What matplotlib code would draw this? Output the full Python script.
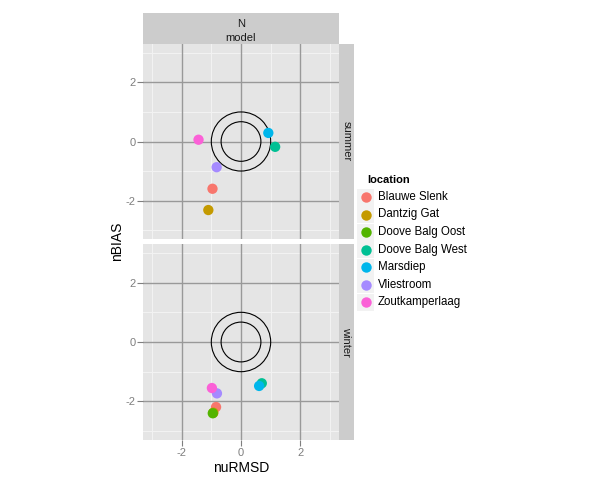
import numpy as np
import matplotlib
matplotlib.use("Agg")
import matplotlib.pyplot as plt
from matplotlib.patches import Circle, Rectangle

plt.rcParams["font.family"] = ["Liberation Sans", "DejaVu Sans"]

# locations and ggplot default hue colours
locations = ["Blauwe Slenk", "Dantzig Gat", "Doove Balg Oost", "Doove Balg West",
             "Marsdiep", "Vliestroom", "Zoutkamperlaag"]
colors = ["#F8766D", "#C49A00", "#53B400", "#00C094", "#00B6EB", "#A58AFF", "#FB61D7"]

# summer (Doove Balg Oost has no value)
summer_x = [-0.96, -1.10, np.nan, 1.15, 0.92, -0.82, -1.43]
summer_y = [-1.60, -2.32, np.nan, -0.18, 0.29, -0.87, 0.06]
# winter
winter_x = [-0.84, -0.93, -0.95, 0.70, 0.61, -0.81, -0.98]
winter_y = [-2.19, -2.38, -2.40, -1.39, -1.48, -1.73, -1.55]

seasons = ["summer", "winter"]
xs = [summer_x, winter_x]
ys = [summer_y, winter_y]
radii = [1.0, 0.67]
lim = 3.3

W, H = 600, 480
fig = plt.figure(figsize=(6, 4.8), dpi=100)

def fx(px):
    return px / W

def fy(py):
    return 1 - py / H

panel_l, panel_r = 143, 339
panels = [(44, 239), (244, 440)]
grey_txt = "#7F7F7F"

for k, (top, bot) in enumerate(panels):
    ax = fig.add_axes([fx(panel_l), fy(bot), fx(panel_r - panel_l), (bot - top) / H])
    ax.set_facecolor("#E5E5E5")
    ax.set_xlim(-lim, lim)
    ax.set_ylim(-lim, lim)
    for v in [-3, -1, 1, 3]:
        ax.axvline(v, color="#F2F2F2", lw=0.8, zorder=0)
        ax.axhline(v, color="#F2F2F2", lw=0.8, zorder=0)
    for v in [-2, 0, 2]:
        ax.axvline(v, color="#999999", lw=1.0, zorder=0.5)
        ax.axhline(v, color="#999999", lw=1.0, zorder=0.5)
    for r in radii:
        ax.add_patch(Circle((0, 0), r, fill=False, ec="black", lw=0.8, zorder=2))
    for i, loc in enumerate(locations):
        ax.scatter(xs[k][i], ys[k][i], s=55, color=colors[i], edgecolors="none", zorder=3)
    for s in ax.spines.values():
        s.set_visible(False)
    ax.set_yticks([-2, 0, 2])
    ax.set_yticklabels(["-2", "0", "2"], color=grey_txt, fontsize=8)
    ax.tick_params(axis="y", length=4, color=grey_txt, pad=1.5)
    if k == 1:
        ax.set_xticks([-2, 0, 2])
        ax.set_xticklabels(["-2", "0", "2"], color=grey_txt, fontsize=8)
        ax.tick_params(axis="x", length=4, color=grey_txt, pad=2)
        ax.set_xlabel("nuRMSD", fontsize=10, labelpad=2)
    else:
        ax.set_xticks([])

    # right strip
    sax = fig.add_axes([fx(panel_r), fy(bot), fx(354 - panel_r), (bot - top) / H])
    sax.set_facecolor("#CCCCCC")
    sax.set_xticks([])
    sax.set_yticks([])
    for s in sax.spines.values():
        s.set_visible(False)
    sax.text(0.5, 0.5, seasons[k], rotation=-90, ha="center", va="center",
             fontsize=8, color="#1A1A1A", transform=sax.transAxes)

# top strips
for label, (t, b) in [("N", (15, 30)), ("model", (30, 44))]:
    tax = fig.add_axes([fx(panel_l), fy(b), fx(panel_r - panel_l), (b - t) / H])
    tax.set_facecolor("#CCCCCC")
    tax.set_xticks([])
    tax.set_yticks([])
    for s in tax.spines.values():
        s.set_visible(False)
    tax.text(0.5, 0.4, label, ha="center", va="center", fontsize=8,
             color="#1A1A1A", transform=tax.transAxes)
fig.patches.append(Rectangle((fx(panel_l), fy(15)), fx(panel_r - panel_l), 2 / H,
                             transform=fig.transFigure, facecolor="#CCCCCC",
                             edgecolor="none"))

fig.text(fx(117), fy(241), "nBIAS", rotation=90, ha="center", va="center", fontsize=10)

# legend
fig.text(fx(367), fy(180), "location", fontsize=8, fontweight="bold", ha="left", va="center")
for i, loc in enumerate(locations):
    yc = 197 + i * 17.5
    fig.patches.append(Rectangle((fx(357), fy(yc + 8.5)), fx(17), 17 / H,
                                 transform=fig.transFigure, facecolor="#F2F2F2",
                                 edgecolor="none"))
    fig.add_artist(plt.Line2D([fx(365.5)], [fy(yc)], marker="o", markersize=7.5,
                              color=colors[i], markeredgecolor="none",
                              transform=fig.transFigure))
    fig.text(fx(378), fy(yc), loc, fontsize=8.3, ha="left", va="center")

fig.savefig("out.png", dpi=100)
